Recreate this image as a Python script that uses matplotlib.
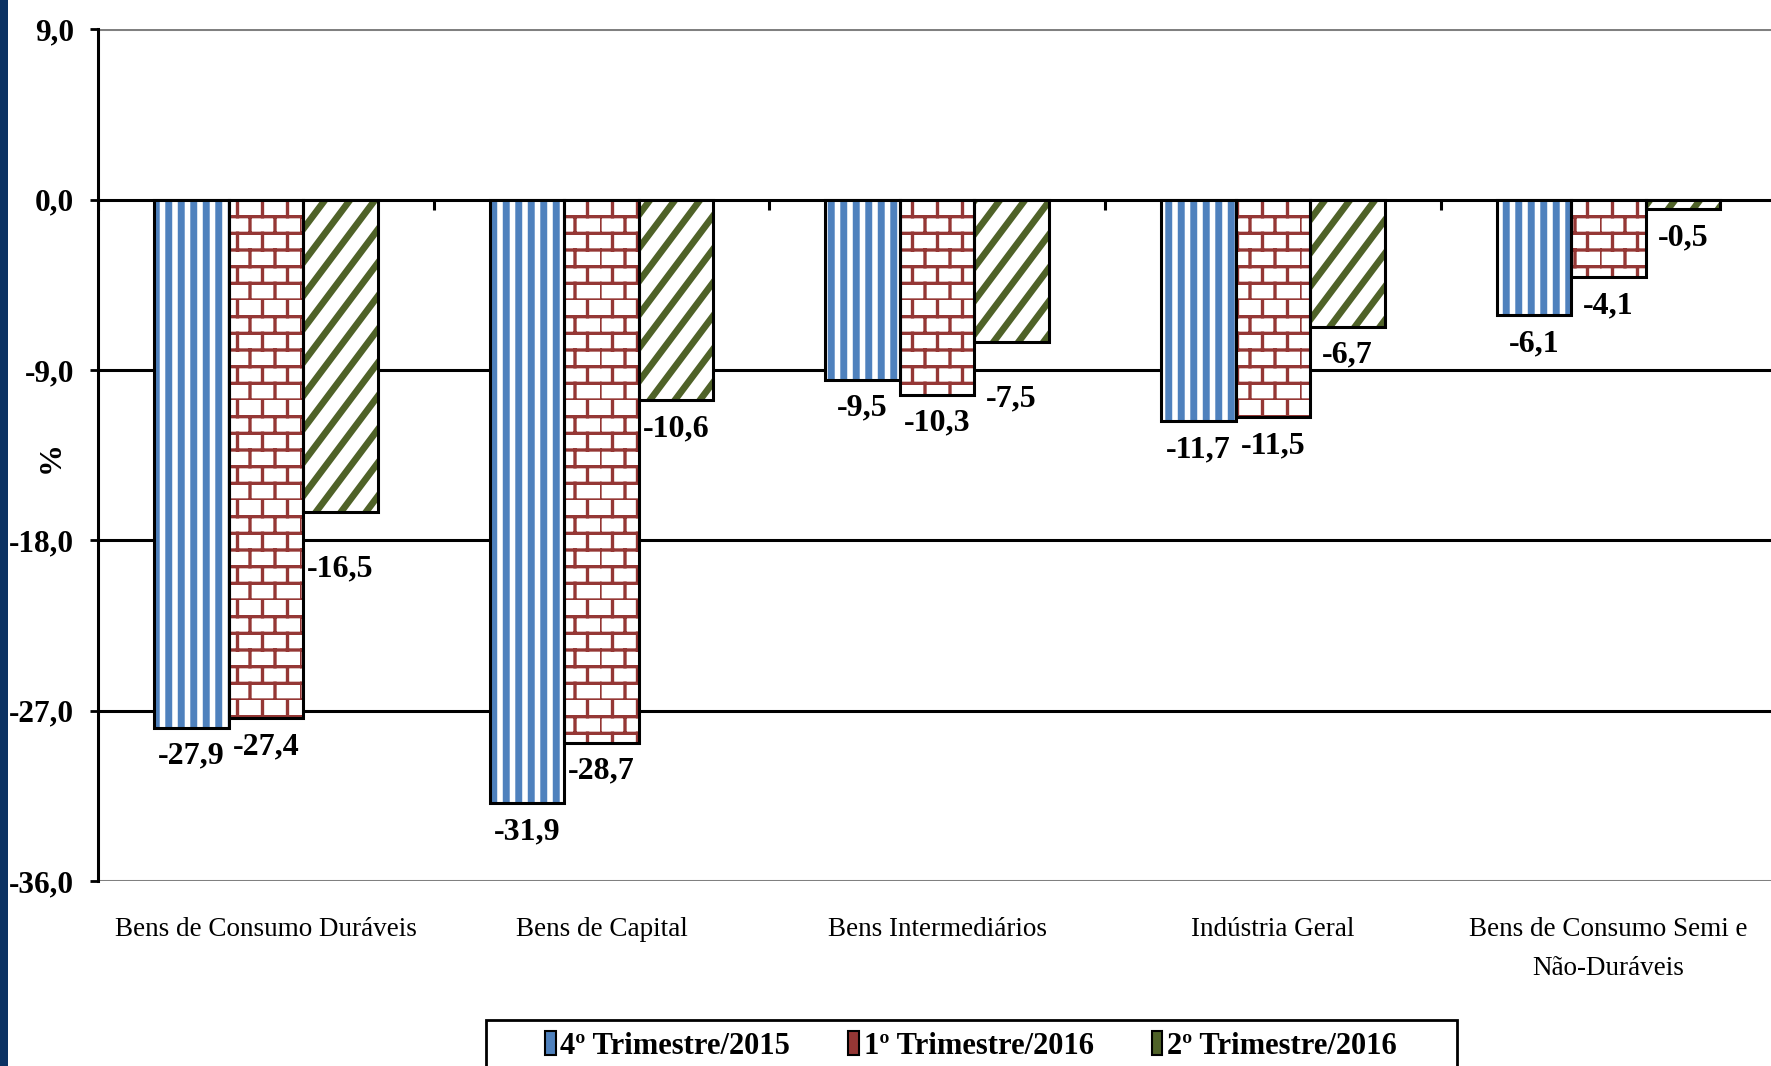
import numpy as np
import matplotlib
matplotlib.use("Agg")
import matplotlib.pyplot as plt
import matplotlib.hatch as mhatch
from matplotlib.path import Path
from matplotlib.patches import Patch, Rectangle


# ==============================
# DATA
# ==============================

categories = [
    "Bens de Consumo Duráveis",
    "Bens de Capital",
    "Bens Intermediários",
    "Indústria Geral",
    "Bens de Consumo Semi e\nNão-Duráveis",
]

series_names = ["4º Trimestre/2015", "1º Trimestre/2016", "2º Trimestre/2016"]

q4_2015 = [-27.9, -31.9, -9.5, -11.7, -6.1]
q1_2016 = [-27.4, -28.7, -10.3, -11.5, -4.1]
q2_2016 = [-16.5, -10.6, -7.5, -6.7, -0.5]

y_ticks = [9.0, 0.0, -9.0, -18.0, -27.0, -36.0]


# ==============================
# CUSTOM HATCHES (stripes, bricks, wide diagonal)
# ==============================

class StripeHatch(mhatch.HatchPatternBase):
    # vertical stripes, 8 per hatch cell
    def __init__(self, hatch, density):
        self.n = 8 if '|' in hatch else 0
        self.num_vertices = self.n * 2

    def set_vertices_and_codes(self, vertices, codes):
        xs = (np.arange(self.n) + 0.5) / self.n
        vertices[0::2, 0] = xs
        vertices[0::2, 1] = 0.0
        vertices[1::2, 0] = xs
        vertices[1::2, 1] = 1.0
        codes[0::2] = Path.MOVETO
        codes[1::2] = Path.LINETO


class BrickHatch(mhatch.HatchPatternBase):
    # 6 rows x 4 bricks, every other row offset by half a brick
    rows, cols = 6, 4

    def __init__(self, hatch, density):
        on = '+' in hatch
        self.num_vertices = (self.rows * 2 + self.rows * self.cols * 2) if on else 0

    def set_vertices_and_codes(self, vertices, codes):
        v = []
        for r in range(self.rows):
            y0 = r / self.rows
            v += [(0.0, y0), (1.0, y0)]
        for r in range(self.rows):
            y0 = r / self.rows
            y1 = (r + 1) / self.rows
            shift = 0.5 / self.cols if r % 2 else 0.0
            for c in range(self.cols):
                x = c / self.cols + shift
                v += [(x, y0), (x, y1)]
        vertices[:] = np.array(v)
        codes[0::2] = Path.MOVETO
        codes[1::2] = Path.LINETO


class WideDiagHatch(mhatch.HatchPatternBase):
    # upward diagonal, 4 across and 3 up per cell
    nx, ny = 4, 3

    def __init__(self, hatch, density):
        on = '/' in hatch
        self.ks = list(range(-self.ny - 2, self.nx + 3)) if on else []
        self.num_vertices = len(self.ks) * 2

    def set_vertices_and_codes(self, vertices, codes):
        for i, k in enumerate(self.ks):
            ya, yb = -1.0, 2.0
            vertices[2 * i] = ((k + self.ny * ya) / self.nx, ya)
            vertices[2 * i + 1] = ((k + self.ny * yb) / self.nx, yb)
        codes[0::2] = Path.MOVETO
        codes[1::2] = Path.LINETO


mhatch._hatch_types[:] = [StripeHatch, BrickHatch, WideDiagHatch]


# ==============================
# STYLE
# ==============================

plt.rcParams['font.family'] = ['Liberation Serif', 'DejaVu Serif']

BLUE = "#4F81BD"
RED = "#953735"
GREEN = "#4F6228"
NAVY = "#0B3263"

colors = [BLUE, RED, GREEN]
hatches = ['|', '+', '/']
hatch_lw = [5.0, 2.4, 4.8]

LABEL_GAP = 1.5     # label centre below bar end, in data units
GRID_CLEAR = 0.7    # labels closer than this to a gridline get pushed below it

W, H = 1771, 1066
fig = plt.figure(figsize=(W / 100, H / 100), dpi=100)
fig.patch.set_facecolor("white")
fig.patches.append(Rectangle((0, 0), 8 / W, 1, transform=fig.transFigure,
                             facecolor=NAVY, edgecolor="none", zorder=0))

ax = fig.add_axes([98 / W, 0.1735, 1 - 98 / W + 0.003, 0.7989])

x = np.arange(len(categories))
bw = 0.222
all_series = [q4_2015, q1_2016, q2_2016]
inner_grid = [t for t in y_ticks[2:-1]]

for i, (vals, col, hat, hlw) in enumerate(zip(all_series, colors, hatches, hatch_lw)):
    pos = x + (i - 1) * bw
    with plt.rc_context({'hatch.linewidth': hlw}):
        bars = ax.bar(pos, vals, width=bw, color="white", edgecolor=col,
                      linewidth=0, hatch=hat, zorder=3)
    for b in bars:
        if hasattr(b, "set_hatch_linewidth"):
            b.set_hatch_linewidth(hlw)
    ax.bar(pos, vals, width=bw, fill=False, edgecolor="black",
           linewidth=2.2, zorder=4)
    for xp, v in zip(pos, vals):
        ly = v - LABEL_GAP
        for g in inner_grid:
            if abs(ly - g) < GRID_CLEAR:
                ly = g - LABEL_GAP
        ax.text(xp, ly, f"{v:.1f}".replace('.', ','),
                ha="center", va="center", fontsize=23,
                fontweight="bold", zorder=5)

ax.set_xlim(-0.5, len(categories) - 0.5)
ax.set_ylim(y_ticks[-1], y_ticks[0])
ax.set_yticks(y_ticks)
ax.set_yticklabels([f"{t:.1f}".replace('.', ',') for t in y_ticks],
                   fontsize=22.5, fontweight="bold")
ax.tick_params(axis='y', length=6, width=2, pad=11)

ax.set_xticks(x)
ax.set_xticklabels(categories, fontsize=19.5)
ax.tick_params(axis='x', length=0, pad=26)
for lab in ax.get_xticklabels():
    lab.set_linespacing(1.75)

# horizontal gridlines: black, grey at the extremes
for t in y_ticks:
    c = "#808080" if t in (y_ticks[0], y_ticks[-1]) else "black"
    ax.axhline(t, color=c, linewidth=2.2, zorder=1)

# category boundary ticks on the zero line
ax.vlines(np.arange(len(categories) + 1) - 0.5, -0.55, 0, color="black",
          linewidth=2.2, zorder=2)

for s in ["top", "right", "bottom"]:
    ax.spines[s].set_visible(False)
ax.spines["left"].set_linewidth(2.2)
ax.spines["left"].set_zorder(2)

fig.text(51 / W, 1 - 457 / H, "%", rotation=90, ha="center", va="center",
         fontsize=23, fontweight="bold")

# legend
handles = [Patch(facecolor=c, edgecolor="black", linewidth=1.5) for c in colors]
fig.patches.append(Rectangle((486 / W, -0.05), (1457 - 486) / W, 0.05 + 46 / H,
                             transform=fig.transFigure, facecolor="white",
                             edgecolor="black", linewidth=2))
fig.legend(handles, series_names, loc="center", bbox_to_anchor=(971 / W, 20 / H),
           ncol=3, frameon=False, prop={'size': 22, 'weight': 'bold'},
           handlelength=0.35, handleheight=0.8, handletextpad=0.15,
           columnspacing=1.9)

fig.savefig("out.png", dpi=100)
